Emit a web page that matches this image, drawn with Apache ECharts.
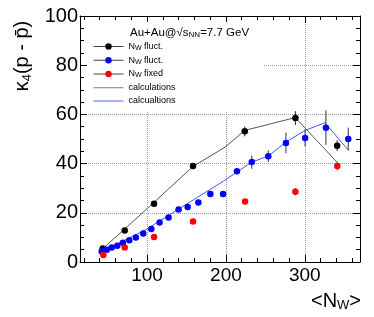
<!DOCTYPE html>
<html>
<head>
<meta charset="utf-8">
<script src="https://cdn.jsdelivr.net/npm/echarts@6/dist/echarts.min.js"></script>
<style>html,body{margin:0;padding:0;background:#fff;}#c{width:374px;height:317px;}</style>
</head>
<body>
<div id="c"></div>
<script>
// ---- data ----
const blackX = [43.8, 71.7, 108.9, 158.3, 223.9, 288.1, 341.0];
const blackY = [5.5, 12.8, 23.7, 39.0, 53.1, 58.5, 47.3];
const blackErr = [0.5, 0.6, 0.8, 1.0, 2.0, 2.8, 2.2];

const blueX = [42.5, 48.9, 55.2, 62.3, 69.4, 77.5, 85.9, 95.2, 105.4, 115.9, 127.3, 140.0, 151.5, 165.1, 180.3, 196.4, 214.0, 232.8, 253.7, 276.1, 300.4, 326.8, 355.1];
const blueY = [4.3, 5.0, 5.9, 6.6, 7.8, 8.8, 10.0, 11.6, 13.4, 16.1, 18.1, 21.3, 22.4, 24.2, 27.6, 27.6, 36.9, 40.6, 43.0, 48.4, 50.4, 54.6, 50.0];
const blueErr = [0.3, 0.3, 0.3, 0.3, 0.3, 0.3, 0.3, 0.4, 0.4, 0.4, 0.5, 0.5, 0.6, 0.8, 1.2, 1.0, 0.6, 2.7, 2.4, 4.2, 3.5, 7.0, 4.6];

const redX = [44.6, 71.7, 108.9, 158.3, 224.3, 288.1, 341.2];
const redY = [2.8, 5.9, 10.2, 16.5, 24.6, 28.6, 39.0];
const redErr = [0.2, 0.3, 0.4, 0.5, 0.7, 1.5, 1.7];

const calcBlackX = [44, 72, 109, 158, 199, 224, 288, 341];
const calcBlackY = [5.5, 13.5, 24.3, 38.8, 46.7, 53.5, 58.7, 40.5];

const calcBlueX = [42, 100, 125, 197, 232.8, 253.8, 276.3, 300.4, 325.7, 355.3];
const calcBlueY = [4.1, 13.4, 18.5, 32.9, 40.6, 43.1, 48.8, 53.5, 56.6, 45.4];

const xMajorTicks = [100, 200, 300];
const xMinorTicks = [20, 40, 60, 80, 120, 140, 160, 180, 220, 240, 260, 280, 320, 340, 360];

// ---- helpers ----
const FONT = "'Liberation Sans', Arial, Helvetica, sans-serif";
const zip = (xs, ys) => xs.map((x, i) => [x, ys[i]]);
const errData = (xs, ys, es) => xs.map((x, i) => [x, ys[i] - es[i], ys[i] + es[i]]);

function errSeries(xs, ys, es, color) {
  return {
    type: 'custom',
    z: 3,
    silent: true,
    data: errData(xs, ys, es),
    encode: { x: 0, y: [1, 2] },
    renderItem: function (params, api) {
      const p1 = api.coord([api.value(0), api.value(1)]);
      const p2 = api.coord([api.value(0), api.value(2)]);
      return { type: 'line', shape: { x1: p1[0], y1: p1[1], x2: p2[0], y2: p2[1] },
               style: { stroke: color, lineWidth: 1 } };
    }
  };
}
function ptSeries(name, xs, ys, color) {
  return {
    name: name, type: 'line', z: 4,
    data: zip(xs, ys),
    symbol: 'circle', symbolSize: 6.5, showSymbol: true, showAllSymbol: true,
    itemStyle: { color: color },
    lineStyle: { opacity: 0 },
    emphasis: { disabled: true }
  };
}

const legendNames = {
  fluctBlack: '{a|N}{sub|W}{a| fluct.}',
  fluctBlue: '{a|N}{sub|W}{a| fluct.}',
  fixed: '{a|N}{sub|W}{a| fixed}',
  calc1: '{a|calculations}',
  calc2: '{a|calcualtions}'
};

const axisLineStyle = { color: '#000', width: 1 };
const gridLineStyle = { color: '#9a9a9a', type: 'dotted', width: 1 };

const chart = echarts.init(document.getElementById('c'));
chart.setOption({
  animation: false,
  backgroundColor: '#fff',
  textStyle: { fontFamily: FONT },
  grid: { left: 80, right: 14, top: 16, bottom: 55, containLabel: false },
  title: {
    left: 130, top: 26, padding: 0,
    text: '{a|Au+Au@√s}{sub|NN}{a|=7.7 GeV}',
    textStyle: {
      fontWeight: 'normal',
      rich: {
        a: { fontSize: 11.5, lineHeight: 13, fontWeight: 'normal', color: '#000', fontFamily: FONT },
        sub: { fontSize: 8, lineHeight: 8, fontWeight: 'normal', verticalAlign: 'bottom', color: '#000', fontFamily: FONT }
      }
    }
  },
  legend: {
    left: 93, top: 42, padding: 0, orient: 'vertical',
    itemWidth: 30, itemHeight: 8, itemGap: 4.25,
    selectedMode: false,
    formatter: function (n) { return legendNames[n]; },
    textStyle: {
      color: '#000',
      rich: {
        a: { fontSize: 9, lineHeight: 10, color: '#000', fontFamily: FONT },
        sub: { fontSize: 7, lineHeight: 6, verticalAlign: 'bottom', color: '#000', fontFamily: FONT }
      }
    },
    data: [
      { name: 'fluctBlack', lineStyle: { color: '#444', width: 1, opacity: 1 } },
      { name: 'fluctBlue', lineStyle: { color: '#444', width: 1, opacity: 1 } },
      { name: 'fixed', lineStyle: { color: '#444', width: 1, opacity: 1 } },
      { name: 'calc1', itemStyle: { opacity: 0 }, lineStyle: { color: '#777', width: 1, opacity: 1 } },
      { name: 'calc2', itemStyle: { opacity: 0 }, lineStyle: { color: '#5566ff', width: 1, opacity: 1 } }
    ]
  },
  graphic: [{
    type: 'rect', z: 1, silent: true,
    shape: { x: 87, y: 22, width: 176, height: 90 },
    style: { fill: '#fff' }
  }],
  xAxis: [
    {
      type: 'value', min: 15, max: 370, position: 'bottom',
      axisLine: { show: true, lineStyle: axisLineStyle },
      axisTick: { show: true, inside: true, length: 7, customValues: xMajorTicks, lineStyle: axisLineStyle },
      axisLabel: { customValues: xMajorTicks, margin: 4, fontSize: 19, color: '#000', fontFamily: FONT },
      splitLine: { show: true, lineStyle: gridLineStyle },
      name: '{a|<N}{sub|W}{a|>}',
      nameLocation: 'middle', nameGap: 28,
      nameTextStyle: {
        padding: [0, 0, 0, 232],
        rich: {
          a: { fontSize: 20, lineHeight: 22, color: '#000', fontFamily: FONT },
          sub: { fontSize: 13, lineHeight: 12, verticalAlign: 'bottom', color: '#000', fontFamily: FONT }
        }
      }
    },
    {
      type: 'value', min: 15, max: 370, position: 'bottom',
      axisLine: { show: false },
      axisTick: { show: true, inside: true, length: 4, customValues: xMinorTicks, lineStyle: axisLineStyle },
      axisLabel: { show: false }, splitLine: { show: false }
    },
    {
      type: 'value', min: 15, max: 370, position: 'top',
      axisLine: { show: true, lineStyle: axisLineStyle },
      axisTick: { show: true, inside: true, length: 7, customValues: xMajorTicks, lineStyle: axisLineStyle },
      axisLabel: { show: false }, splitLine: { show: false }
    },
    {
      type: 'value', min: 15, max: 370, position: 'top',
      axisLine: { show: false },
      axisTick: { show: true, inside: true, length: 4, customValues: xMinorTicks, lineStyle: axisLineStyle },
      axisLabel: { show: false }, splitLine: { show: false }
    }
  ],
  yAxis: [
    {
      type: 'value', min: 0, max: 100, interval: 20, position: 'left',
      axisLine: { show: true, lineStyle: axisLineStyle },
      axisTick: { show: true, inside: true, length: 7, lineStyle: axisLineStyle },
      minorTick: { show: true, splitNumber: 4, length: 4, lineStyle: axisLineStyle },
      axisLabel: { margin: 2, fontSize: 20, color: '#000', fontFamily: FONT },
      splitLine: { show: true, showMinLine: false, showMaxLine: false, lineStyle: gridLineStyle },
      name: '{a|κ}{sub|4}{a|(p - p\u0304)}',
      nameLocation: 'middle', nameGap: 31,
      nameTextStyle: {
        padding: [0, 0, 0, 166],
        rich: {
          a: { fontSize: 20, lineHeight: 22, color: '#000', fontFamily: FONT },
          sub: { fontSize: 13, lineHeight: 12, verticalAlign: 'bottom', color: '#000', fontFamily: FONT }
        }
      }
    },
    {
      type: 'value', min: 0, max: 100, interval: 20, position: 'right',
      axisLine: { show: true, lineStyle: axisLineStyle },
      axisTick: { show: true, inside: true, length: 7, lineStyle: axisLineStyle },
      minorTick: { show: true, splitNumber: 4, length: 4, lineStyle: axisLineStyle },
      axisLabel: { show: false }, splitLine: { show: false }
    }
  ],
  series: [
    {
      name: 'calc1', type: 'line', z: 2, data: zip(calcBlackX, calcBlackY),
      symbol: 'none', lineStyle: { color: '#555', width: 1 }, itemStyle: { color: '#555' },
      emphasis: { disabled: true }
    },
    {
      name: 'calc2', type: 'line', z: 2, data: zip(calcBlueX, calcBlueY),
      symbol: 'none', lineStyle: { color: '#4455ff', width: 1 }, itemStyle: { color: '#4455ff' },
      emphasis: { disabled: true }
    },
    errSeries(blackX, blackY, blackErr, '#222'),
    errSeries(blueX, blueY, blueErr, '#333'),
    errSeries(redX, redY, redErr, '#333'),
    ptSeries('fluctBlack', blackX, blackY, '#000'),
    ptSeries('fluctBlue', blueX, blueY, '#0000ff'),
    ptSeries('fixed', redX, redY, '#ff0000')
  ]
});
</script>
</body>
</html>
